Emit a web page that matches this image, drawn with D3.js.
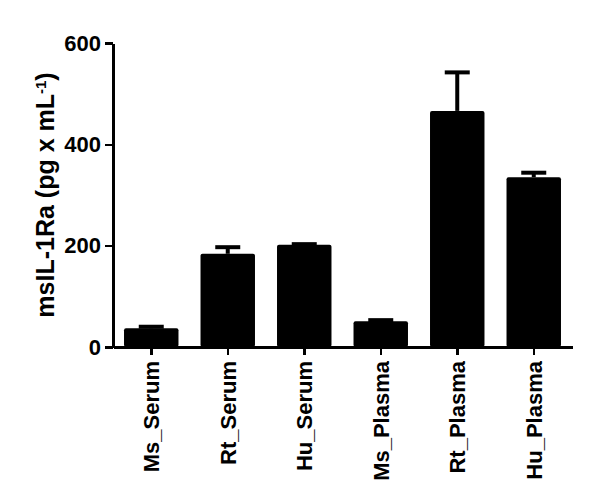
<!DOCTYPE html>
<html lang="en">
<head>
<meta charset="utf-8">
<title>msIL-1Ra</title>
<script src="https://cdn.jsdelivr.net/npm/d3@7"></script>
<style>
  body { margin: 0; background: #fff; }
  .axis path, .axis line { fill: none; stroke: #000; stroke-width: 2.5px; shape-rendering: crispEdges; }
  .axis text { font-family: "Liberation Sans", Arial, sans-serif; font-weight: bold; font-size: 22px; fill: #000; }
  .ylabel { font-family: "Liberation Sans", Arial, sans-serif; font-weight: bold; font-size: 25px; }
</style>
</head>
<body>
<script>
// data
var groups = ["Ms_Serum", "Rt_Serum", "Hu_Serum", "Ms_Plasma", "Rt_Plasma", "Hu_Plasma"];
var means  = [37, 184, 202, 51, 466, 335];
var errors = [3, 13, 1, 2, 76, 9];
var yTicks = [0, 200, 400, 600];

var w = 600, h = 501;
var mLeft = 113, mRight = 572, mTop = 43, mBottom = 347;

var svg = d3.select("body").append("svg")
  .attr("width", w)
  .attr("height", h);

var x = d3.scaleBand()
  .domain(groups)
  .range([mLeft, mRight])
  .paddingInner(0.288)
  .paddingOuter(0.144);

var y = d3.scaleLinear()
  .domain([0, 600])
  .range([mBottom, mTop]);

var rows = groups.map(function(g, i) { return {name: g, mean: means[i], err: errors[i]}; });

// error bars (upper only), drawn first so the bar covers the stem
var eb = svg.append("g");
eb.selectAll("line.stem")
  .data(rows)
  .enter().append("line")
  .attr("class", "stem")
  .attr("x1", function(d) { return x(d.name) + x.bandwidth() / 2; })
  .attr("x2", function(d) { return x(d.name) + x.bandwidth() / 2; })
  .attr("y1", function(d) { return y(d.mean); })
  .attr("y2", function(d) { return y(d.mean + d.err); })
  .attr("stroke", "#000")
  .attr("stroke-width", 4);

eb.selectAll("line.cap")
  .data(rows)
  .enter().append("line")
  .attr("class", "cap")
  .attr("x1", function(d) { return x(d.name) + x.bandwidth() / 2 - 12.5; })
  .attr("x2", function(d) { return x(d.name) + x.bandwidth() / 2 + 12.5; })
  .attr("y1", function(d) { return y(d.mean + d.err); })
  .attr("y2", function(d) { return y(d.mean + d.err); })
  .attr("stroke", "#000")
  .attr("stroke-width", 4);

svg.append("g").selectAll("rect")
  .data(rows)
  .enter().append("rect")
  .attr("x", function(d) { return x(d.name); })
  .attr("y", function(d) { return y(d.mean); })
  .attr("width", x.bandwidth())
  .attr("height", function(d) { return y(0) - y(d.mean); })
  .attr("rx", 2)
  .attr("fill", "#000");

// axes
svg.append("g")
  .attr("class", "axis")
  .attr("transform", "translate(" + mLeft + ",0)")
  .call(d3.axisLeft(y).tickValues(yTicks).tickSize(8).tickSizeOuter(0).tickPadding(4));

var xa = svg.append("g")
  .attr("class", "axis")
  .attr("transform", "translate(0," + mBottom + ")")
  .call(d3.axisBottom(x).tickSize(8).tickSizeOuter(0));

xa.selectAll("text")
  .attr("transform", "rotate(-90)")
  .attr("text-anchor", "end")
  .attr("x", -14)
  .attr("y", 0)
  .attr("dy", "0.36em");

// y title
var yl = svg.append("text")
  .attr("class", "ylabel")
  .attr("transform", "translate(54,195) rotate(-90)")
  .attr("text-anchor", "middle");
yl.append("tspan").text("msIL-1Ra (pg x mL");
yl.append("tspan").attr("baseline-shift", "super").attr("font-size", "15px").text("-1");
yl.append("tspan").text(")");
</script>
</body>
</html>
